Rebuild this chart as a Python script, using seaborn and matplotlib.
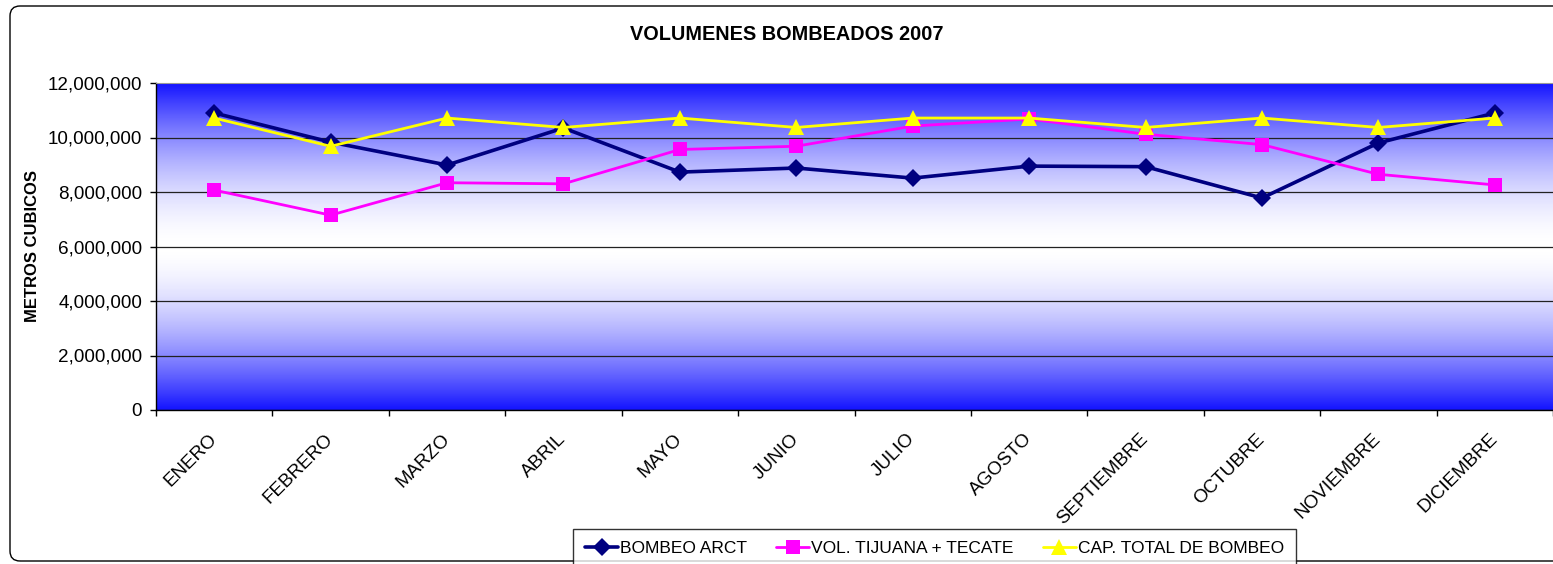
import numpy as np
import pandas as pd
import seaborn as sns
import matplotlib.pyplot as plt
from matplotlib.colors import LinearSegmentedColormap
from matplotlib.patches import FancyBboxPatch
from matplotlib.ticker import StrMethodFormatter, FixedLocator
from matplotlib.transforms import IdentityTransform, ScaledTranslation

meses = ['ENERO', 'FEBRERO', 'MARZO', 'ABRIL', 'MAYO', 'JUNIO', 'JULIO',
         'AGOSTO', 'SEPTIEMBRE', 'OCTUBRE', 'NOVIEMBRE', 'DICIEMBRE']
bombeo_arct = [10900000, 9830000, 8990000, 10350000, 8730000, 8880000,
               8510000, 8950000, 8930000, 7780000, 9800000, 10900000]
vol_tijuana_tecate = [8070000, 7150000, 8340000, 8300000, 9560000, 9680000,
                      10420000, 10680000, 10120000, 9740000, 8650000, 8260000]
cap_total_bombeo = [10713600, 9676800, 10713600, 10368000, 10713600, 10368000,
                    10713600, 10713600, 10368000, 10713600, 10368000, 10713600]
series = ['BOMBEO ARCT', 'VOL. TIJUANA + TECATE', 'CAP. TOTAL DE BOMBEO']
colores = ['#000080', '#ff00ff', '#ffff00']

df = pd.DataFrame({
    'mes': meses * 3,
    'valor': bombeo_arct + vol_tijuana_tecate + cap_total_bombeo,
    'serie': [s for s in series for _ in meses],
})

sns.set_style('white')
plt.rcParams['font.family'] = ['Liberation Sans', 'DejaVu Sans']
plt.rcParams['text.color'] = 'black'
plt.rcParams['xtick.color'] = 'black'
plt.rcParams['ytick.color'] = 'black'

fig = plt.figure(figsize=(15.53, 5.64), dpi=100)
ax = fig.add_axes([156 / 1553, 1 - 410 / 564, 1397 / 1553, 327 / 564])

# fondo degradado azul-blanco-azul
t = np.linspace(0, 1, 400)
grad = (np.abs(t - 0.5) * 2) ** 1.7
fondo = LinearSegmentedColormap.from_list('fondo', ['#ffffff', '#1414ff'])
ax.imshow(grad[:, None], extent=[-0.5, 11.5, 0, 12e6], origin='lower',
          aspect='auto', cmap=fondo, vmin=0, vmax=1, zorder=0,
          interpolation='bilinear')

sns.lineplot(data=df, x='mes', y='valor', hue='serie', style='serie',
             markers=['D', 's', '^'], dashes=False, palette=colores,
             errorbar=None, sort=False, legend=False, ax=ax,
             linewidth=2.2, markeredgewidth=0, zorder=3)

lineas = ax.lines[:3]
for ln, ms, lw in zip(lineas, [9, 10, 11], [2.6, 2.0, 2.0]):
    ln.set_markersize(ms)
    ln.set_linewidth(lw)

ax.set_xlim(-0.5, 11.5)
ax.set_ylim(0, 12e6)
ax.set_yticks(np.arange(0, 12e6 + 1, 2e6))
ax.yaxis.set_major_formatter(StrMethodFormatter('{x:,.0f}'))
ax.yaxis.grid(True, color='#222222', linewidth=0.9)
ax.get_ygridlines()[-1].set_visible(False)
ax.set_xlabel('')
ax.set_ylabel('')

ax.set_xticks(range(len(meses)))
ax.set_xticklabels(meses, rotation=45, ha='right', va='center',
                   rotation_mode='anchor', fontsize=13.6)
desplazar = ScaledTranslation(-6 / 100, 0, fig.dpi_scale_trans)
for lab in ax.get_xticklabels():
    lab.set_transform(lab.get_transform() + desplazar)
ax.xaxis.set_minor_locator(FixedLocator(np.arange(-0.5, 12, 1)))
ax.tick_params(axis='x', which='major', length=0, pad=19)
ax.tick_params(axis='x', which='minor', length=4, width=1, color='black',
               direction='out', bottom=True)
ax.tick_params(axis='y', length=4, width=1, color='black', direction='out',
               left=True, labelsize=13.6, pad=6)

for lado in ['left', 'bottom']:
    ax.spines[lado].set_color('black')
    ax.spines[lado].set_linewidth(1)
ax.spines['top'].set_color('#999999')
ax.spines['right'].set_visible(False)

fig.text(787 / 1553, 1 - 35 / 564, 'VOLUMENES BOMBEADOS 2007',
         ha='center', va='center', fontsize=14.3, fontweight='bold')
fig.text(33 / 1553, 1 - 246 / 564, 'METROS CUBICOS', rotation=90,
         ha='center', va='center', fontsize=12, fontweight='bold')

leg = fig.legend(lineas, series, loc='upper left',
                 bbox_to_anchor=(573 / 1553, 1 - 529 / 564), ncol=3,
                 frameon=True, fancybox=False, edgecolor='black',
                 fontsize=12.5, handlelength=1.9, handletextpad=0.1,
                 columnspacing=1.7, borderpad=0.7, borderaxespad=0)
leg.get_frame().set_linewidth(1)

borde = FancyBboxPatch((10, 3), 1600, 555,
                       boxstyle='round,pad=0,rounding_size=10',
                       transform=IdentityTransform(), fill=False,
                       edgecolor='black', linewidth=1)
fig.add_artist(borde)

fig.savefig('out.png', dpi=100)
